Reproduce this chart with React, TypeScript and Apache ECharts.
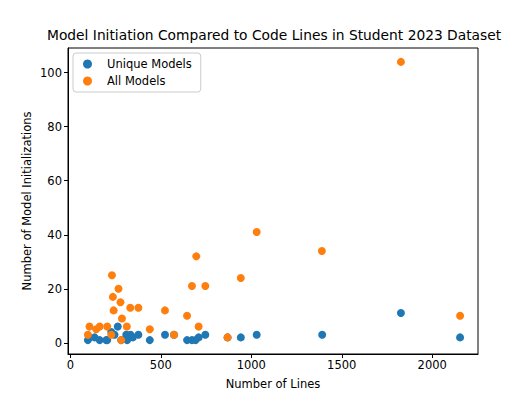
import React, { useEffect, useRef } from "react";
import * as echarts from "echarts";

const uniqueLines = [97, 106, 134, 162, 198, 204, 226, 244, 262, 281, 309, 314, 332, 345, 376, 439, 523, 573, 645, 672, 692, 709, 746, 869, 942, 1030, 1392, 1827, 2154];
const uniqueCounts = [1, 2, 2, 1, 1, 1, 4, 3, 6, 1, 3, 1, 3, 2, 3, 1, 3, 3, 1, 1, 1, 2, 3, 2, 2, 3, 3, 11, 2];

const allLines = [97, 106, 143, 162, 204, 226, 230, 235, 239, 266, 277, 281, 285, 312, 331, 376, 439, 523, 573, 645, 672, 696, 709, 746, 869, 942, 1030, 1390, 1827, 2154];
const allCounts = [3, 6, 5, 6, 6, 3, 25, 17, 12, 20, 15, 1, 9, 6, 13, 13, 5, 12, 3, 10, 21, 32, 6, 21, 2, 24, 41, 34, 104, 10];

const xTicks = [0, 500, 1000, 1500, 2000];
const yTicks = [0, 20, 40, 60, 80, 100];

const FONT = "DejaVu Sans";

export default function App() {
  const ref = useRef<HTMLDivElement>(null);
  useEffect(() => {
    const chart = echarts.init(ref.current!, null, { renderer: "svg" });
    chart.setOption({
      animation: false,
      backgroundColor: "#ffffff",
      title: {
        text: "Model Initiation Compared to Code Lines in Student 2023 Dataset",
        left: 47,
        top: 28,
        padding: 0,
        textStyle: { fontFamily: FONT, fontSize: 13.8, fontWeight: "normal", color: "#000" },
      },
      legend: {
        orient: "vertical",
        left: 73,
        top: 53,
        padding: [5, 9, 5, 10],
        itemGap: 5,
        itemWidth: 9,
        itemHeight: 9,
        icon: "circle",
        borderColor: "#cccccc",
        borderWidth: 1,
        borderRadius: 3,
        backgroundColor: "rgba(255,255,255,0.8)",
        textStyle: { fontFamily: FONT, fontSize: 11.5, color: "#000", padding: [0, 0, 0, 10] },
        data: ["Unique Models", "All Models"],
      },
      grid: {
        left: 68,
        right: 54,
        top: 48,
        bottom: 44,
        show: true,
        borderColor: "#000",
        borderWidth: 1,
        backgroundColor: "transparent",
      },
      xAxis: {
        type: "value",
        min: -13,
        max: 2253,
        name: "Number of Lines",
        nameLocation: "middle",
        nameGap: 24,
        nameTextStyle: { fontFamily: FONT, fontSize: 11.5, color: "#000" },
        splitLine: { show: false },
        axisLine: { show: true, onZero: false, lineStyle: { color: "#000", width: 1 } },
        axisTick: { show: true, inside: false, length: 4, lineStyle: { color: "#000" }, customValues: xTicks },
        axisLabel: { fontFamily: FONT, fontSize: 11.5, color: "#000", margin: 5, customValues: xTicks, formatter: (v: number) => String(v) },
      },
      yAxis: {
        type: "value",
        min: -4.15,
        max: 109.15,
        name: "Number of Model Initializations",
        nameLocation: "middle",
        nameGap: 35,
        nameMoveOverlap: false,
        nameTextStyle: { fontFamily: FONT, fontSize: 11.5, color: "#000" },
        splitLine: { show: false },
        axisLine: { show: true, onZero: false, lineStyle: { color: "#000", width: 1 } },
        axisTick: { show: true, inside: false, length: 4, lineStyle: { color: "#000" }, customValues: yTicks },
        axisLabel: { fontFamily: FONT, fontSize: 11.5, color: "#000", margin: 6, customValues: yTicks, formatter: (v: number) => String(v) },
      },
      series: [
        {
          name: "Unique Models",
          type: "scatter",
          symbolSize: 8,
          itemStyle: { color: "#1f77b4", opacity: 1 },
          data: uniqueLines.map((x, i) => [x, uniqueCounts[i]]),
        },
        {
          name: "All Models",
          type: "scatter",
          symbolSize: 8,
          itemStyle: { color: "#ff7f0e", opacity: 1 },
          data: allLines.map((x, i) => [x, allCounts[i]]),
        },
      ],
    });
    return () => chart.dispose();
  }, []);
  return <div ref={ref} style={{ width: 532, height: 398, position: "absolute", left: 0, top: 0 }} />;
}
